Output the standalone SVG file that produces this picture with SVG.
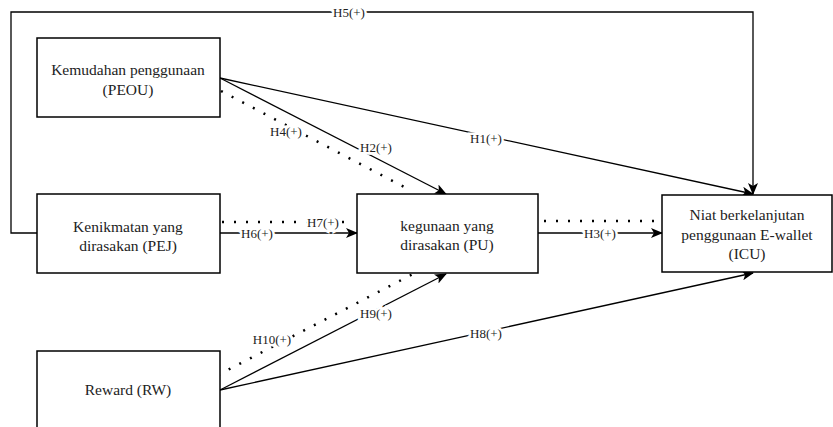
<svg xmlns="http://www.w3.org/2000/svg" width="833" height="427" viewBox="0 0 833 427">
<style>
.box{fill:#fff;stroke:#000;stroke-width:1.5}
.t{font-family:"Liberation Serif","Times New Roman",serif;font-size:15.5px;fill:#222;text-anchor:middle}
.ln{fill:none;stroke:#000;stroke-width:1.3}
.dot{fill:none;stroke:#000;stroke-width:2.5;stroke-dasharray:2 10;stroke-linecap:butt}
.lb{font-family:"Liberation Serif","Times New Roman",serif;font-size:13px;fill:#222;text-anchor:middle;dominant-baseline:central;stroke:#fff;stroke-width:5;paint-order:stroke}
</style>
<defs>
<marker id="ah" viewBox="0 0 12 10" refX="11" refY="5" markerWidth="12" markerHeight="10" markerUnits="userSpaceOnUse" orient="auto">
<path d="M0,0 L12,5 L0,10 L3,5 Z" fill="#000"/>
</marker>
</defs>
<g id="connectors">
<path class="ln" d="M37,233 H11 V12 H753 V194" marker-end="url(#ah)"/>
<path class="ln" d="M220,78 L753,194" marker-end="url(#ah)"/>
<path class="ln" d="M220,78 L446,194" marker-end="url(#ah)"/>
<path class="dot" d="M221,91 L408,189"/>
<path class="ln" d="M220,233 L357,233" marker-end="url(#ah)"/>
<path class="dot" d="M222,222 L352,222"/>
<path class="ln" d="M538,233 L662,233" marker-end="url(#ah)"/>
<path class="dot" d="M544,221 L654,221"/>
<path class="ln" d="M220,390 L446,274" marker-end="url(#ah)"/>
<path class="ln" d="M220,390 L753,273" marker-end="url(#ah)"/>
<path class="dot" d="M218,375 L413,274"/>
<text class="lb" x="349" y="12">H5(+)</text>
<text class="lb" x="486" y="138">H1(+)</text>
<text class="lb" x="376" y="147">H2(+)</text>
<text class="lb" x="286" y="131">H4(+)</text>
<text class="lb" x="257" y="233">H6(+)</text>
<text class="lb" x="323" y="222">H7(+)</text>
<text class="lb" x="600" y="233">H3(+)</text>
<text class="lb" x="376" y="313">H9(+)</text>
<text class="lb" x="272" y="339">H10(+)</text>
<text class="lb" x="486" y="333">H8(+)</text>
</g>
<g id="PEOU">
<rect class="box" x="37" y="38" width="183" height="79"/>
<text class="t" x="128" y="75">Kemudahan penggunaan</text>
<text class="t" x="128" y="95">(PEOU)</text>
</g>
<g id="PEJ">
<rect class="box" x="37" y="194" width="183" height="79"/>
<text class="t" x="128" y="232">Kenikmatan yang</text>
<text class="t" x="128" y="251">dirasakan (PEJ)</text>
</g>
<g id="RW">
<rect class="box" x="37" y="351" width="183" height="100"/>
<text class="t" x="128" y="395">Reward (RW)</text>
</g>
<g id="PU">
<rect class="box" x="357" y="194" width="181" height="79"/>
<text class="t" x="447" y="231">kegunaan yang</text>
<text class="t" x="447" y="250">dirasakan (PU)</text>
</g>
<g id="ICU">
<rect class="box" x="662" y="195" width="170" height="77"/>
<text class="t" x="747" y="220">Niat berkelanjutan</text>
<text class="t" x="747" y="240">penggunaan E-wallet</text>
<text class="t" x="747" y="259">(ICU)</text>
</g>
</svg>
